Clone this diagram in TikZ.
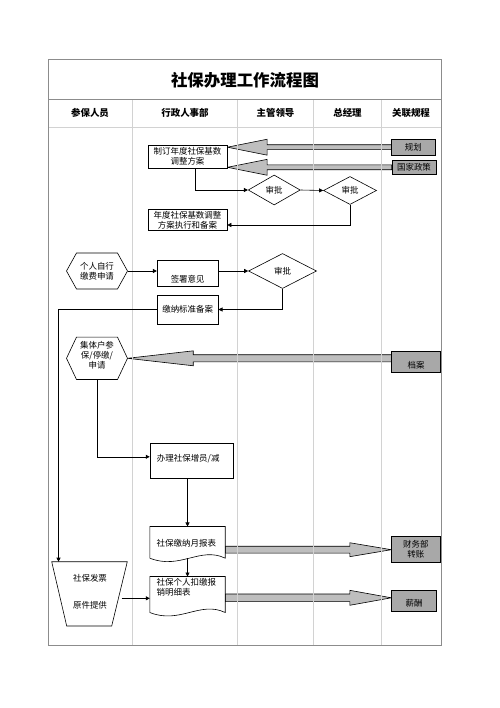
\documentclass[tikz,border=0pt]{standalone}
\usepackage{fontspec}
\setmainfont{Noto Sans CJK SC}
\usetikzlibrary{arrows.meta,shapes.geometric,calc,backgrounds}
\definecolor{boxg}{HTML}{A8A8A8}
\definecolor{arrg}{HTML}{BEBEBE}
\definecolor{framegray}{HTML}{8C8C8C}
\definecolor{lanegray}{HTML}{D2D2D2}
\newcommand\fatarr[5]{\filldraw[fat] let \p1=(#1), \p2=(#2) in (\x1,\y2+#4) -- (\x2+#3,\y2+#4) -- (\x2+#3,\y2+#5) -- (\x2,\y2) -- (\x2+#3,\y2-#5) -- (\x2+#3,\y2-#4) -- (\x1,\y2-#4) -- cycle;}
\newcommand\myhex[1]{\draw[line width=0.6bp,fill=white] (#1.west) -- ([xshift=10bp]#1.north west) -- ([xshift=-10bp]#1.north east) -- (#1.east) -- ([xshift=-10bp]#1.south east) -- ([xshift=10bp]#1.south west) -- cycle;}
\newcommand\mydoc[1]{\draw[line width=0.6bp,fill=white] (#1.south west) -- (#1.north west) -- (#1.north east) -- (#1.south east) .. controls +(-25,-12) and +(30,12) .. (#1.south west);}
\begin{document}
\begin{tikzpicture}[x=1bp,y=-1bp,
  bodyfont/.style={font=\fontsize{8.5}{10}\selectfont},
  box/.style={draw=black,fill=white,line width=0.6bp,inner sep=0pt,bodyfont,align=center},
  gbox/.style={box,fill=boxg},
  dia/.style={diamond,draw=black,fill=white,line width=0.6bp,inner sep=0pt,bodyfont},
  txt/.style={inner sep=0pt,bodyfont,align=center},
  hdr/.style={inner sep=0pt,font=\fontsize{9.5}{11}\selectfont\bfseries},
  conn/.style={draw=black,line width=0.6bp,-{Triangle[length=4bp,width=4bp]}},
  fat/.style={draw=black,line width=0.6bp,fill=arrg},
  frame/.style={draw=framegray,line width=1bp},
  lane/.style={draw=lanegray,line width=0.8bp}]
\useasboundingbox (0,0) rectangle (500,708);
% frame and lanes
\draw[lane] (48.5,127) -- (441,127);
\foreach \x in {132,237.5,313.5,381.5} \draw[lane] (\x,99.5) -- (\x,645);
\draw[frame] (48.5,60) rectangle (441,645);
\draw[frame] (48.5,99.5) -- (441,99.5);
% title and headers
\node[inner sep=0pt,font=\fontsize{16.5}{18}\selectfont\bfseries] (title) at (245,80) {社保办理工作流程图};
\node[hdr] (hA) at (90,113) {参保人员};
\node[hdr] (hB) at (185,113) {行政人事部};
\node[hdr] (hC) at (275.5,113) {主管领导};
\node[hdr] (hD) at (347.5,113) {总经理};
\node[hdr] (hE) at (411,113) {关联规程};
% nodes
\node[box,minimum width=79bp,minimum height=23.3bp] (p1) at (187.5,156.7) {制订年度社保基数\\调整方案};
\node[gbox,minimum width=43.3bp,minimum height=15.7bp] (gh) at (413.3,147.2) {规划};
\node[gbox,minimum width=44bp,minimum height=13.5bp] (gc) at (414,167.3) {国家政策};
\node[dia,minimum width=52bp,minimum height=30bp] (dm1) at (274.2,190) {审批};
\node[dia,minimum width=53bp,minimum height=28bp] (dm2) at (350,190.5) {审批};
\node[box,minimum width=79bp,minimum height=20.5bp] (p2) at (187.5,220) {年度社保基数调整\\方案执行和备案};
\node[txt,minimum width=60.6bp,minimum height=35.6bp] (h1) at (97,271) {};
\myhex{h1}
\node[txt] (h1t) at (97,271) {个人自行\\缴费申请};
\node[box,minimum width=61bp,minimum height=26.7bp] (b3) at (187.7,273.3) {};
\node[txt] (b3t) at (187.7,279.5) {签署意见};
\node[dia,minimum width=68bp,minimum height=35bp] (dm3) at (282.5,271) {审批};
\node[box,minimum width=61bp,minimum height=29bp] (b4) at (187.7,309.5) {缴纳标准备案};
\node[txt,minimum width=60.6bp,minimum height=42bp] (h2) at (97,358.3) {};
\myhex{h2}
\node[txt] (h2t) at (97,355) {集体户参\\保/停缴/\\申请};
\node[box,minimum width=83.3bp,minimum height=35bp] (b5) at (191.7,460.8) {};
\node[txt,anchor=west] (b5t) at (156.7,458.5) {办理社保增员/减};
\node[txt,minimum width=75bp,minimum height=31.3bp] (d1) at (187.5,542.3) {};
\mydoc{d1}
\node[txt,anchor=west] (d1t) at (156.5,543.3) {社保缴纳月报表};
\node[txt,minimum width=75bp,minimum height=35.6bp] (d2) at (187.5,594.5) {};
\mydoc{d2}
\node[txt,anchor=north west,align=left] (d2t) at (156.5,578.3) {社保个人扣缴报\\销明细表};
\draw[line width=0.6bp,fill=white] (51.7,561.7) -- (127.3,561.7) -- (111.7,626) -- (66.7,626) -- cycle;
\node[txt] (T1) at (90,578.5) {社保发票};
\node[txt] (T2) at (90,605) {原件提供};
\coordinate (ttop) at (58.5,561.7);
\coordinate (tr) at (121.7,598.3);
\node[gbox,minimum width=49bp,minimum height=21bp] (da) at (416.2,362.2) {};
\node[txt] (dat) at (416.2,365) {档案};
\node[gbox,minimum width=48.3bp,minimum height=26bp] (cw) at (415.8,549.7) {财务部\\转账};
\node[gbox,minimum width=45bp,minimum height=21.7bp] (xc) at (414.2,600.8) {};
\node[txt] (xct) at (414.2,603.5) {薪酬};
% fat arrows
\begin{pgfonlayer}{background}
\fatarr{gh.west}{p1.east |- gh.west}{40pt}{2.5pt}{8pt}
\fatarr{gc.west}{p1.east |- gc.west}{40pt}{2.5pt}{8pt}
\fatarr{da.west}{h2.east}{66pt}{3.6pt}{7.5pt}
\fatarr{d1.east |- cw.west}{cw.west}{-41.7pt}{3.5pt}{7pt}
\fatarr{d2.east |- xct}{[yshift=3bp]xc.west}{-41.7pt}{3.8pt}{7.5pt}
\end{pgfonlayer}
% connectors
\draw[conn] ([xshift=7.5bp]p1.south) |- (dm1.west);
\draw[conn] (dm1.east) -- (dm2.west);
\draw[conn] (dm2.south) |- ([yshift=-5bp]p2.east);
\draw[conn] (h1.east) -- (b3.west |- h1.east);
\draw[conn] (b3.east |- dm3.west) -- (dm3.west);
\draw[conn] (dm3.south) |- (b4.east);
\draw[conn] (b4.west) -| (ttop);
\draw[conn] (h2.south) |- ([yshift=4bp]b5.west);
\draw[conn] (d1.north |- b5.south) -- (d1.north);
\draw[conn] (d1.south) -- (d2.north);
\draw[conn] (tr) -- (d2.west |- tr);
\end{tikzpicture}
\end{document}
